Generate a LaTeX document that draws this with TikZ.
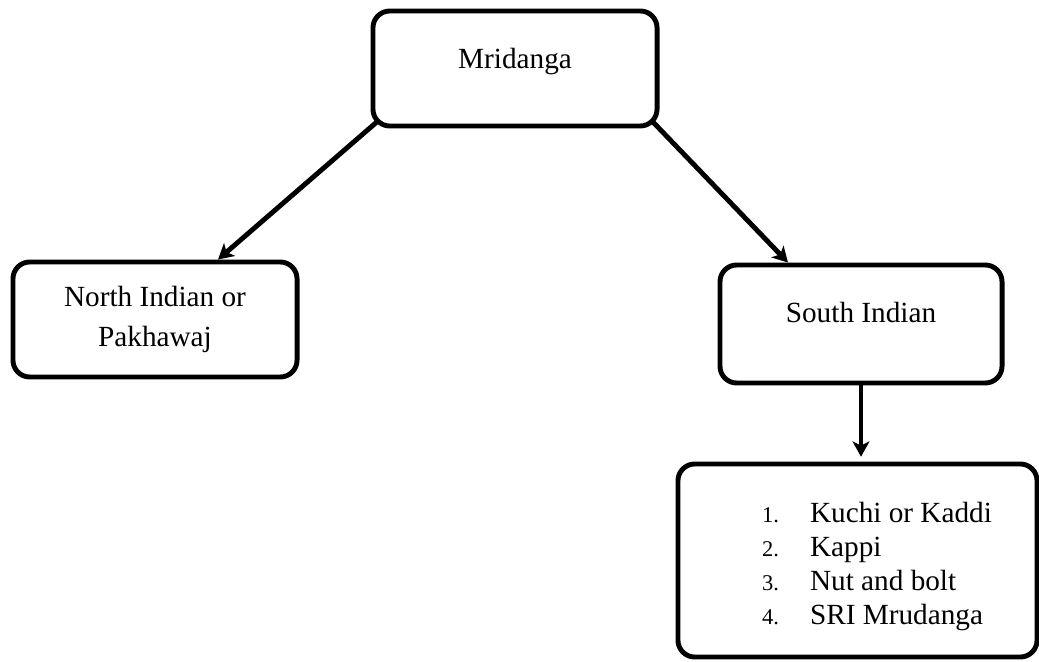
\documentclass[tikz,border=0pt]{standalone}
\usepackage{fontspec}
\setmainfont{Liberation Serif}
\usetikzlibrary{arrows.meta}

\newcommand{\listfont}{\fontsize{20.8}{24.2}\selectfont\lineskiplimit=-100pt\relax}
\newcommand{\listitem}[2]{\hspace*{0.975cm}\makebox[1.2cm][l]{\fontsize{16}{16}\selectfont #1}#2}

\begin{document}
\begin{tikzpicture}[x=0.025cm,y=-0.025cm,
    box/.style={draw,line width=3.5pt,rounded corners=0.42cm,inner sep=0pt,
        font=\fontsize{20.8}{28.45}\selectfont},
    arr/.style={-{Stealth[length=0.38cm,width=0.42cm,inset=0.1cm]},line width=3.5pt}]
    \useasboundingbox (0,0) rectangle (1039,662);

    \node[box,minimum width=7.1cm,minimum height=2.875cm,text height=0.45cm,text depth=0.45cm](mridanga) at (515,68.5){Mridanga};
    \node[box,minimum width=7.1cm,minimum height=2.875cm,align=center](north) at (155,319.5){North Indian or\\Pakhawaj};
    \node[box,minimum width=7.05cm,minimum height=2.95cm,text height=0.45cm,text depth=0.5cm](south) at (861,324){South Indian};
    \node[box,minimum width=8.975cm,minimum height=4.825cm,align=left,font=\listfont](list) at (857.5,560.5){%
        \listitem{1.}{\rule{0pt}{0.83cm}Kuchi or Kaddi}\\
        \listitem{2.}{Kappi}\\
        \listitem{3.}{Nut and bolt}\\
        \listitem{4.}{SRI Mrudanga}};

    \draw[arr]([xshift=0.19cm,yshift=0.19cm]mridanga.south west)--([xshift=1.575cm]north.north);
    \draw[arr]([xshift=-0.19cm,yshift=0.19cm]mridanga.south east)--([xshift=-1.825cm]south.north);
    \draw[arr](south.south)--([yshift=0.12cm]south.south |- list.north);
\end{tikzpicture}
\end{document}
